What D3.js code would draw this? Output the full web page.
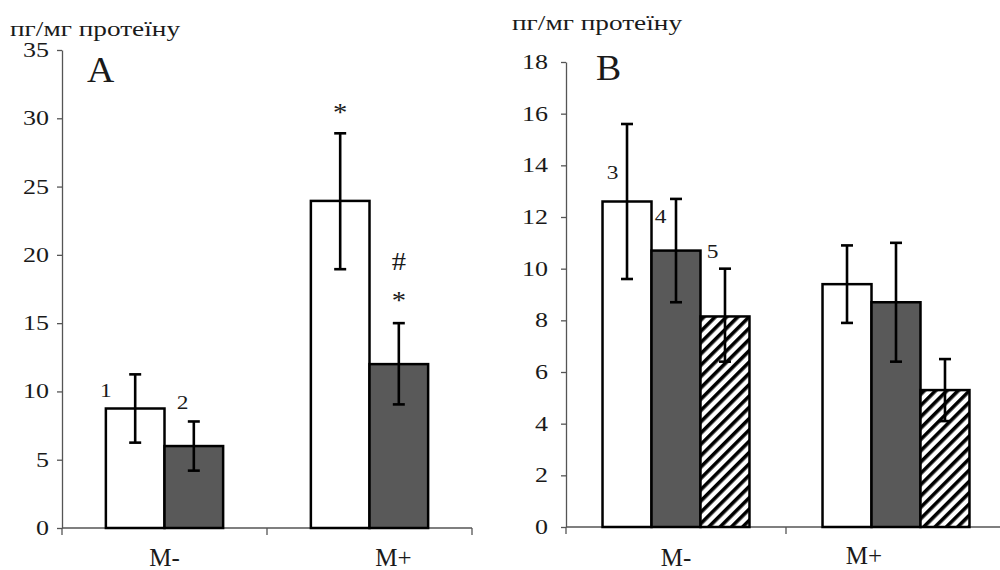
<!DOCTYPE html>
<html>
<head>
<meta charset="utf-8">
<script src="https://cdn.jsdelivr.net/npm/d3@7"></script>
<style>
  body { margin: 0; background: #fff; }
  text { font-family: "Liberation Serif", "Times New Roman", serif; fill: #1a1a1a; }
</style>
</head>
<body>
<svg id="chart" width="1000" height="570"></svg>
<script>
// ---- data ----
var categories = ["M-", "M+"];
var yUnit = "пг/мг протеїну";

// panel A: series 1 (white), 2 (dark)
var aMeans = [[8.75, 6.0], [23.95, 12.0]];
var aLow   = [[6.25, 4.2], [18.95, 9.05]];
var aHigh  = [[11.25, 7.8], [28.9, 15.0]];
var aTicks = [0, 5, 10, 15, 20, 25, 30, 35];

// panel B: series 3 (white), 4 (dark), 5 (hatched)
var bMeans = [[12.6, 10.7, 8.15], [9.4, 8.7, 5.3]];
var bLow   = [[9.6, 8.7, 6.4], [7.9, 6.4, 4.1]];
var bHigh  = [[15.6, 12.7, 10.0], [10.9, 11.0, 6.5]];
var bTicks = [0, 2, 4, 6, 8, 10, 12, 14, 16, 18];

var aLabels = ["1", "2"];
var bLabels = ["3", "4", "5"];

var svg = d3.select("#chart");
var sx = 1.3; // glyphs in the source are stretched horizontally

// hatch pattern
svg.append("defs").append("pattern")
    .attr("id", "hatch")
    .attr("patternUnits", "userSpaceOnUse")
    .attr("width", 8).attr("height", 8)
    .attr("patternTransform", "rotate(45)")
    .call(function (p) {
        p.append("rect").attr("width", 8).attr("height", 8).attr("fill", "#fff");
        p.append("rect").attr("x", 0).attr("width", 3.6).attr("height", 8).attr("fill", "#000");
    });

var fills = ["#fff", "#595959", "url(#hatch)"];

function stretchedText(g, x, y, str, size, anchor, k) {
    return g.append("text")
        .attr("transform", "translate(" + x + "," + y + ") scale(" + (k || sx) + ",1)")
        .attr("text-anchor", anchor || "start")
        .attr("font-size", size)
        .text(str);
}

function drawPanel(opt) {
    var g = svg.append("g");
    var y = d3.scaleLinear().domain([0, opt.ticks[opt.ticks.length - 1]]).range([opt.bottom, opt.top]);
    var x = d3.scaleBand().domain(categories).range([opt.left, opt.right]);
    var nSeries = opt.means[0].length;
    var gw = x.bandwidth() * opt.groupFrac;
    var xs = d3.scaleBand().domain(d3.range(nSeries)).range([0, gw]);

    // y axis
    var yAxis = d3.axisLeft(y).tickValues(opt.ticks).tickSize(5).tickSizeOuter(0).tickPadding(opt.tickPad);
    var ya = g.append("g").attr("transform", "translate(" + opt.left + ",0)").call(yAxis);
    ya.select(".domain").attr("stroke", "#555").attr("stroke-width", 1.3);
    ya.selectAll(".tick line").attr("stroke", "#555").attr("stroke-width", 1.3);
    ya.selectAll(".tick text").remove();
    opt.ticks.forEach(function (t) {
        stretchedText(g, opt.left - 5 - opt.tickPad, y(t) + 7, String(t), 20, "end");
    });

    // x axis
    var xa = g.append("g").attr("transform", "translate(0," + opt.bottom + ")");
    xa.append("line").attr("x1", opt.left).attr("x2", opt.right)
        .attr("stroke", "#555").attr("stroke-width", 1.3);
    var edges = categories.map(function (c) { return x(c); }).concat([opt.right]);
    xa.selectAll(".xt").data(edges).enter().append("line")
        .attr("x1", function (d) { return d; }).attr("x2", function (d) { return d; })
        .attr("y1", 0).attr("y2", 7)
        .attr("stroke", "#555").attr("stroke-width", 1.3);

    categories.forEach(function (c, ci) {
        var gx = x(c) + (x.bandwidth() - gw) / 2;
        stretchedText(g, x(c) + x.bandwidth() / 2 + opt.catDx[ci], opt.catY[ci], c, 25, "middle", 1.0);
        opt.means[ci].forEach(function (v, si) {
            g.append("rect")
                .attr("x", gx + xs(si)).attr("y", y(v))
                .attr("width", xs.bandwidth()).attr("height", y(0) - y(v))
                .attr("fill", fills[si])
                .attr("stroke", "#000").attr("stroke-width", 2.5);
        });
        opt.means[ci].forEach(function (v, si) {
            var cx = gx + xs(si) + xs.bandwidth() / 2;
            var lo = y(opt.low[ci][si]), hi = y(opt.high[ci][si]);
            var eb = g.append("g").attr("stroke", "#000").attr("stroke-width", 2.6);
            eb.append("line").attr("x1", cx).attr("x2", cx).attr("y1", lo).attr("y2", hi);
            eb.append("line").attr("x1", cx - 6).attr("x2", cx + 6).attr("y1", lo).attr("y2", lo);
            eb.append("line").attr("x1", cx - 6).attr("x2", cx + 6).attr("y1", hi).attr("y2", hi);
        });
    });

    // series number labels on the first group
    opt.labels.forEach(function (lab, si) {
        var bx = x(categories[0]) + (x.bandwidth() - gw) / 2 + xs(si);
        stretchedText(g, bx + opt.labDx[si], y(opt.means[0][si]) + opt.labDy[si], lab, 18, "middle");
    });

    // titles
    stretchedText(g, opt.unitX, opt.unitY, yUnit, 21, "start");
    stretchedText(g, opt.letterX, opt.letterY, opt.letter, 36, "start", 1.05);
    return {x: x, y: y, xs: xs, gw: gw, g: g};
}

var A = drawPanel({
    left: 62, right: 472, top: 50, bottom: 528, ticks: aTicks, groupFrac: 0.572,
    means: aMeans, low: aLow, high: aHigh, labels: aLabels, tickPad: 8,
    labDx: [0, 18], labDy: [-12, -37],
    catDx: [0, 24], catY: [566, 566],
    unitX: 10, unitY: 36, letter: "A", letterX: 87, letterY: 82
});

var B = drawPanel({
    left: 566, right: 1006, top: 62, bottom: 527, ticks: bTicks, groupFrac: 0.668,
    means: bMeans, low: bLow, high: bHigh, labels: bLabels, tickPad: 13,
    labDx: [10, 9, 12], labDy: [-23, -28, -58],
    catDx: [0, -32], catY: [566, 564],
    unitX: 512, unitY: 30, letter: "B", letterX: 596, letterY: 80
});

// significance marks, panel A, M+ group
var marks = [
    {series: 0, text: "*", dy: -12},
    {series: 1, text: "#", dy: -53},
    {series: 1, text: "*", dy: -14}
];
marks.forEach(function (m) {
    var cx = A.x("M+") + (A.x.bandwidth() - A.gw) / 2 + A.xs(m.series) + A.xs.bandwidth() / 2;
    stretchedText(A.g, cx, A.y(aHigh[1][m.series]) + m.dy, m.text, 26, "middle", 1.1);
});
</script>
</body>
</html>
